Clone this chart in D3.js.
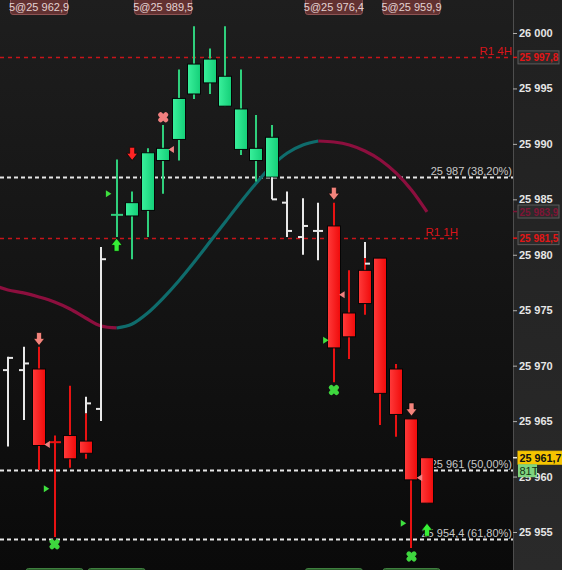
<!DOCTYPE html>
<html><head><meta charset="utf-8">
<script src="https://cdn.jsdelivr.net/npm/d3@7"></script>
<style>html,body{margin:0;padding:0;background:#141414;overflow:hidden}</style>
</head><body><svg id="c" width="562" height="570"></svg>
<script>
// ---------------- DATA ----------------
const barType = ["w","w","r","r","r","r","w","g","g","g","g","g","g","g","g","g","g","g","w","w","w","r","r","r","r","r","r","r"];
const opens  = [25969.6,25969.6,25969.7,25963.2,25963.7,25963.2,25966.1,25983.5,25983.5,25984.0,25988.5,25990.4,25994.5,25995.5,25993.4,25989.5,25988.5,25987.0,25984.7,25981.6,25982.15,25982.6,25974.75,25978.6,25979.7,25969.7,25965.2,25961.7];
const highs  = [25970.8,25971.7,25971.7,25963.7,25968.2,25965.7,25980.7,25988.6,25985.7,25989.6,25991.7,25996.7,26000.6,25998.6,26000.6,25996.7,25992.6,25991.7,25985.7,25985.1,25984.7,25984.7,25978.6,25979.7,25979.7,25970.15,25965.2,25961.7];
const lows   = [25962.7,25965.1,25960.6,25954.55,25960.8,25961.6,25965.0,25981.6,25979.6,25981.6,25985.5,25988.5,25994.05,25994.5,25993.4,25989.0,25986.6,25987.0,25981.6,25980.0,25979.5,25968.5,25970.6,25974.6,25964.65,25963.6,25953.56,25957.6];
const closes = [25970.7,25970.2,25962.8,25963.0,25961.6,25962.1,25979.6,25983.7,25984.7,25989.2,25989.6,25994.1,25997.2,25997.65,25996.1,25993.15,25989.6,25990.6,25982.15,25982.6,25982.15,25971.6,25972.6,25975.6,25967.5,25965.6,25959.7,25957.6];

// partial white (ghost) bars
const ghostIdx   = [5, 17, 23];
const ghostHigh  = [25967.2, 25987.0, 25981.15];
const ghostLow   = [25965.7, 25985.0, 25979.7];
const ghostClose = [25966.6, 25985.0, 25979.2];

// moving average, index -1 .. 27
const maStart = -1;
const maValues = [25977.28,25976.83,25976.56,25976.19,25975.74,25975.11,25974.30,25973.58,25973.40,25973.76,25974.75,25976.10,25977.64,25979.35,25981.15,25982.96,25984.76,25986.47,25988.01,25989.18,25989.90,25990.26,25990.17,25989.90,25989.36,25988.55,25987.38,25985.84,25983.86];

// markers
const arrowDownPinkIdx = [2, 21, 26],  arrowDownPinkVal = [25972.4, 25985.5, 25966.05];
const arrowDownRedIdx  = [8],          arrowDownRedVal  = [25989.1];
const arrowUpGreenIdx  = [7, 27],      arrowUpGreenVal  = [25980.9, 25955.2];
const crossPinkIdx     = [10],         crossPinkVal     = [25992.4];
const crossGreenIdx    = [3, 21, 26],  crossGreenVal    = [25953.9, 25967.8, 25952.8];
const triPinkIdx       = [2, 10, 21, 26], triPinkVal  = [25962.9, 25989.5, 25976.4, 25959.9];
const triGreenIdx      = [3, 7, 21, 26],  triGreenVal = [25958.9, 25985.5, 25972.3, 25955.8];
const sizeLabelCount   = 5;

// horizontal levels
const levelValues = [25997.8, 25987.0, 25981.5, 25960.6, 25954.4];
const levelLabels = ["R1 4H", "25 987 (38,20%)", "R1 1H", "25 961 (50,00%)", "25 954,4 (61,80%)"];
const levelKinds  = ["pivot", "fib", "pivot", "fib", "fib"];

// price axis
const yTicks = [25955, 25960, 25965, 25970, 25975, 25980, 25985, 25990, 25995, 26000];
const tagValues = [25997.8, 25983.9, 25981.5];
const tagKinds  = ["pivot", "ma", "pivot"];
const lastPrice = 25961.7;
const tickCountLabel = "81T";

// ---------------- DRAW ----------------
const W = 562, H = 570, plotR = 513;
const loc = d3.formatLocale({decimal: ",", thousands: " ", grouping: [3], currency: ["", ""]});
const f0 = loc.format(",.0f"), f1 = loc.format(",.1f");
const FONT = "'Liberation Sans', Arial, sans-serif";

const svg = d3.select("#c");
const defs = svg.append("defs");
function vgrad(id, c1, c2, horiz) {
  const g = defs.append("linearGradient").attr("id", id)
    .attr("x1", 0).attr("y1", 0).attr("x2", horiz ? 1 : 0).attr("y2", horiz ? 0 : 1);
  g.append("stop").attr("offset", "0%").attr("stop-color", c1);
  g.append("stop").attr("offset", "100%").attr("stop-color", c2);
}
vgrad("bgPlot", "#1e1e1e", "#0a0a0a");
vgrad("bgAxis", "#202020", "#2a2a2a");
vgrad("gBody", "#3af09c", "#14cf78", true);
vgrad("rBody", "#ff3a3a", "#f00a0a", true);
defs.append("clipPath").attr("id", "clipPlot").append("rect")
  .attr("x", 0).attr("y", 0).attr("width", plotR).attr("height", H);

svg.append("rect").attr("x", 0).attr("y", 0).attr("width", W).attr("height", H).attr("fill", "url(#bgAxis)");
svg.append("rect").attr("x", 0).attr("y", 0).attr("width", plotR).attr("height", H).attr("fill", "url(#bgPlot)");

const y = d3.scaleLinear().domain([25955, 26000]).range([532, 33]);
const x = d3.scaleLinear().domain([0, 27]).range([8, 427]);

const plot = svg.append("g").attr("clip-path", "url(#clipPlot)");

// levels
levelValues.forEach((v, k) => {
  const yy = Math.round(y(v)) + 0.5;
  const pivot = levelKinds[k] === "pivot";
  const labelRight = (k === 2) ? 458 : plotR - 1;
  const lineEnd = pivot ? labelRight : plotR;
  plot.append("line").attr("x1", 0).attr("x2", lineEnd).attr("y1", yy).attr("y2", yy)
    .attr("stroke", pivot ? "#c8141a" : "#e6e6e6")
    .attr("stroke-width", pivot ? 1.4 : 2)
    .attr("stroke-dasharray", pivot ? "4,4" : "4,3");
  plot.append("text").attr("x", labelRight).attr("y", yy - 3)
    .attr("text-anchor", "end").attr("font-family", FONT)
    .attr("font-size", pivot ? 11.5 : 11).attr("fill", pivot ? "#d8141a" : "#c8c8c8")
    .text(levelLabels[k]);
});

// moving average, split by direction
const maPts = maValues.map((v, k) => [x(maStart + k), y(v)]);
let runs = [], cur = [maPts[0]], curDir = null;
for (let k = 1; k < maPts.length; k++) {
  const dir = maValues[k] >= maValues[k - 1] ? "up" : "down";
  if (curDir === null || dir === curDir) { cur.push(maPts[k]); curDir = dir; }
  else { runs.push({pts: cur, dir: curDir}); cur = [maPts[k - 1], maPts[k]]; curDir = dir; }
}
runs.push({pts: cur, dir: curDir});
const maLine = d3.line().curve(d3.curveMonotoneX);
runs.forEach(r => plot.append("path").attr("d", maLine(r.pts)).attr("fill", "none")
  .attr("stroke", r.dir === "up" ? "#0f6c6c" : "#8c0f3e").attr("stroke-width", 3.2)
  .attr("stroke-linecap", "butt"));

// candles
const hw = 7;
function whiteBar(cx, h, l, o, c) {
  const g = plot.append("g").attr("stroke", "#e8e8e8").attr("stroke-width", 2);
  g.append("line").attr("x1", cx).attr("x2", cx).attr("y1", y(h)).attr("y2", y(l));
  if (o !== null) g.append("line").attr("x1", cx - 5).attr("x2", cx).attr("y1", y(o)).attr("y2", y(o));
  if (c !== null) g.append("line").attr("x1", cx).attr("x2", cx + 5).attr("y1", y(c)).attr("y2", y(c));
}
barType.forEach((t, i) => {
  const cx = Math.round(x(i));
  if (t === "w") { whiteBar(cx, highs[i], lows[i], opens[i], closes[i]); return; }
  const green = t === "g";
  const wick = green ? "#2fcf7c" : "#e81212";
  plot.append("line").attr("x1", cx).attr("x2", cx).attr("y1", y(highs[i])).attr("y2", y(lows[i]))
    .attr("stroke", wick).attr("stroke-width", 2);
  const y1 = y(Math.max(opens[i], closes[i])), y2 = y(Math.min(opens[i], closes[i]));
  if (y2 - y1 < 2.5) {
    plot.append("line").attr("x1", cx - hw + 1).attr("x2", cx + hw - 1)
      .attr("y1", (y1 + y2) / 2).attr("y2", (y1 + y2) / 2)
      .attr("stroke", wick).attr("stroke-width", 2);
  } else {
    plot.append("rect").attr("x", cx - hw + 0.5).attr("y", y1).attr("width", 2 * hw - 1).attr("height", y2 - y1)
      .attr("fill", green ? "url(#gBody)" : "url(#rBody)").attr("stroke", "#050505").attr("stroke-width", 1);
  }
});
ghostIdx.forEach((i, k) => whiteBar(Math.round(x(i)), ghostHigh[k], ghostLow[k], null, ghostClose[k]));

// markers
const downArrow = "M-2.5,-6.5L2.5,-6.5L2.5,-0.5L5.5,-0.5L0,6.5L-5.5,-0.5L-2.5,-0.5Z";
const upArrow = "M-2.5,6.5L2.5,6.5L2.5,0.5L5.5,0.5L0,-6.5L-5.5,0.5L-2.5,0.5Z";
function marker(path, cx, cy, fill) {
  plot.append("path").attr("d", path).attr("transform", `translate(${cx},${cy})`)
    .attr("fill", fill).attr("stroke", "#000").attr("stroke-opacity", 0.6).attr("stroke-width", 1);
}
arrowDownPinkIdx.forEach((i, k) => marker(downArrow, x(i), y(arrowDownPinkVal[k]), "#f3847c"));
arrowDownRedIdx.forEach((i, k) => marker(downArrow, x(i), y(arrowDownRedVal[k]), "#ff2424"));
arrowUpGreenIdx.forEach((i, k) => marker(upArrow, x(i), y(arrowUpGreenVal[k]), "#36ee36"));
function cross(cx, cy, fill) {
  const g = plot.append("g").attr("transform", `translate(${cx},${cy})`);
  [45, -45].forEach(a => g.append("rect").attr("x", -6).attr("y", -2.4).attr("width", 12).attr("height", 4.8)
    .attr("rx", 2).attr("transform", `rotate(${a})`).attr("fill", fill));
}
crossPinkIdx.forEach((i, k) => cross(x(i), y(crossPinkVal[k]), "#f07e7e"));
crossGreenIdx.forEach((i, k) => cross(x(i), y(crossGreenVal[k]), "#3ed63e"));
triPinkIdx.forEach((i, k) => plot.append("path").attr("d", "M3,-3.5L3,3.5L-2.5,0Z")
  .attr("transform", `translate(${x(i + 0.5)},${y(triPinkVal[k])})`).attr("fill", "#f08080"));
triGreenIdx.forEach((i, k) => plot.append("path").attr("d", "M-3,-3.5L-3,3.5L2.5,0Z")
  .attr("transform", `translate(${x(i - 0.5)},${y(triGreenVal[k])})`).attr("fill", "#3ee03e"));

// size labels top (pink) & bottom (green, cut off by the frame edge)
function sizeBox(cx, top, text, fill, stroke, color) {
  const g = svg.append("g");
  g.append("rect").attr("x", cx - 28.5).attr("y", top).attr("width", 57).attr("height", 17).attr("rx", 2.5)
    .attr("fill", fill).attr("stroke", stroke).attr("stroke-width", 1);
  if (text) g.append("text").attr("x", cx).attr("y", top + 13).attr("text-anchor", "middle")
    .attr("font-family", FONT).attr("font-size", 11).attr("fill", color).text(text);
}
triPinkIdx.forEach((i, k) => sizeBox(x(i), -2.5, sizeLabelCount + "@" + f1(triPinkVal[k]), "#623131", "#8e5353", "#e2d2d2"));
triGreenIdx.forEach((i, k) => sizeBox(x(i), 568.5, null, "#2b5e2b", "#3f7f3f", "#d8e8d8"));

// price axis
svg.append("line").attr("x1", plotR + 0.5).attr("x2", plotR + 0.5).attr("y1", 0).attr("y2", H)
  .attr("stroke", "#4e4e4e").attr("stroke-width", 1);
const ax = svg.append("g").attr("transform", `translate(${plotR},0)`)
  .call(d3.axisRight(y).tickValues(yTicks).tickFormat(f0).tickSize(4).tickPadding(2));
ax.select(".domain").remove();
ax.selectAll(".tick line").attr("stroke", "#b0b0b0");
ax.selectAll(".tick text").attr("fill", "#e6e6e6").attr("font-family", FONT)
  .attr("font-size", 11).attr("font-weight", "bold");

function tag(v, text, fill, stroke, color, tickColor, w, fs) {
  const yy = y(v);
  svg.append("line").attr("x1", plotR).attr("x2", plotR + 4).attr("y1", yy).attr("y2", yy)
    .attr("stroke", tickColor).attr("stroke-width", 1.5);
  svg.append("rect").attr("x", plotR + 5).attr("y", yy - 6.5).attr("width", w).attr("height", 13)
    .attr("fill", fill).attr("stroke", stroke).attr("stroke-width", 1);
  svg.append("text").attr("x", plotR + 6.5).attr("y", yy + 4).attr("font-family", FONT)
    .attr("font-size", fs).attr("font-weight", "bold").attr("fill", color).text(text);
}
tagValues.forEach((v, k) => {
  const ma = tagKinds[k] === "ma";
  tag(v, f1(v), "#2c2c2c", "#5c5c5c", ma ? "#7e1536" : "#e21616", ma ? "#7e1536" : "#e21616", 41, 10);
});
tag(lastPrice, f1(lastPrice), "#f6c400", "#f6c400", "#111", "#e8e8e8", 46, 10.8);
const ly = y(lastPrice);
svg.append("rect").attr("x", plotR + 5).attr("y", ly + 6.5).attr("width", 19).attr("height", 13)
  .attr("fill", "#7ed47e");
svg.append("text").attr("x", plotR + 6.5).attr("y", ly + 17).attr("font-family", FONT)
  .attr("font-size", 11).attr("fill", "#143214").text(tickCountLabel);
</script></body></html>
